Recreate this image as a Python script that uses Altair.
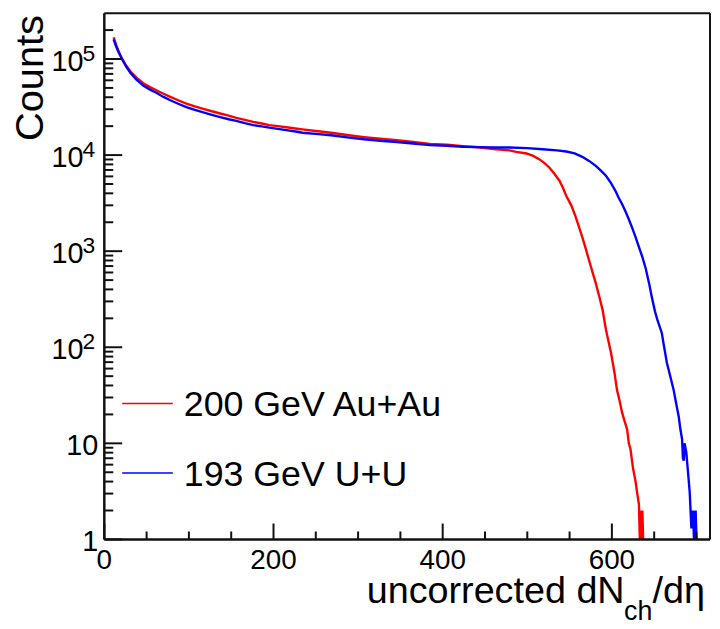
import math
import altair as alt
import pandas as pd

# ---- data ----
au_x = [11, 14, 17, 21, 26, 31, 38, 46, 54, 62, 70, 78, 88, 97, 107, 117, 127, 137, 147, 156,
        166, 176, 186, 195, 205, 215, 228, 234, 250, 268, 287, 307, 326, 346, 365, 385, 405, 424,
        444, 463, 479, 487, 499, 507, 514, 520, 526, 532, 538, 542, 546, 552, 557, 561, 565, 569,
        573, 577, 581, 585, 589, 593, 597, 599, 603, 606, 609, 612, 615, 618, 620, 622, 625, 628,
        630, 632, 633, 634, 635, 636, 637]
au_y = [168000, 140000, 120000, 100000, 85000, 74000, 64000, 56000, 51000, 47000, 43500, 40300,
        37000, 34400, 32200, 30300, 28600, 27100, 25700, 24400, 23300, 22200, 21300, 20500, 20000,
        19500, 18800, 18500, 17800, 17100, 16200, 15400, 14800, 14300, 13700, 13100, 12800, 12400,
        12000, 11500, 11200, 10800, 10400, 9800, 9070, 8300, 7430, 6400, 5410, 4600, 3780, 3000,
        2300, 1800, 1400, 1070, 805, 610, 462, 340, 245, 152, 105, 87, 55, 36, 28, 21, 17, 14, 10,
        8.7, 5.5, 4, 3, 2.3, 1, 2, 1, 2, 1]

uu_x = [11, 14, 17, 21, 26, 31, 38, 46, 54, 62, 70, 78, 88, 97, 107, 117, 127, 137, 147, 156,
        166, 176, 186, 195, 215, 228, 234, 250, 268, 287, 307, 326, 346, 365, 385, 405, 424, 444,
        463, 479, 500, 518, 535, 546, 556, 565, 573, 581, 587, 593, 599, 604, 608, 612, 616, 620,
        624, 628, 632, 636, 640, 644, 647, 651, 654, 659, 661, 665, 669, 673, 676, 679, 681, 683,
        684, 685, 686, 688, 690, 692, 693, 694, 696, 697, 699, 700, 702]
uu_y = [160000, 135000, 117000, 100000, 83000, 71300, 61000, 52800, 48000, 44300, 40300, 37200,
        34000, 31500, 29500, 27800, 26200, 24800, 23600, 22700, 21500, 20500, 19900, 19300, 18200,
        17500, 17100, 16600, 16100, 15300, 14600, 14100, 13700, 13200, 12700, 12500, 12200, 12100,
        12000, 12000, 11800, 11500, 11200, 10900, 10400, 9600, 8700, 7730, 6900, 6090, 5100, 4270,
        3600, 3100, 2600, 2150, 1750, 1400, 1100, 871, 660, 462, 340, 235, 190, 141, 110, 69, 50,
        36, 26, 19, 14, 11, 7, 6.6, 10, 8, 5, 3.1, 2, 1.3, 2, 1, 2, 1, 1]

series_names = ["200 GeV Au+Au", "193 GeV U+U"]
series_colors = ["#ff0000", "#0000ff"]

x_major = [0, 200, 400, 600]
x_major_labels = ["0", "200", "400", "600"]
x_minor = [50, 100, 150, 250, 300, 350, 450, 500, 550, 650, 700]

y_major = [1, 10, 100, 1000, 10000, 100000]
y_plain_vals = [1, 10]
y_plain_labels = ["1", "10"]
y_pow_vals = [100, 1000, 10000, 100000]
y_pow_exps = ["2", "3", "4", "5"]
y_minor = [m * 10 ** e for e in range(0, 6) for m in range(2, 10) if m * 10 ** e <= 200000]

FONT = "Liberation Sans"
INK = "#111111"
W, H = 610, 530
X_MAX, Y_MIN, Y_MAX = 716, 1, 300000
xs = alt.Scale(domain=[0, X_MAX], nice=False, zero=False)
ys = alt.Scale(type="log", domain=[Y_MIN, Y_MAX], nice=False)

au_df = pd.DataFrame({"x": au_x, "y": au_y})
uu_df = pd.DataFrame({"x": uu_x, "y": uu_y})


def curve(df, color):
    return alt.Chart(df).mark_line(color=color, strokeWidth=2.4, clip=True).encode(
        x=alt.X("x:Q", scale=xs, axis=None),
        y=alt.Y("y:Q", scale=ys, axis=None),
    )


red = curve(au_df, series_colors[0])
blue = curve(uu_df, series_colors[1])

# one mixed-type table for all tick positions
tick_df = pd.DataFrame({
    "tv": [float(v) for v in y_major + y_minor + x_major + x_minor],
    "axis": ["y"] * (len(y_major) + len(y_minor)) + ["x"] * (len(x_major) + len(x_minor)),
    "kind": (["major"] * len(y_major) + ["minor"] * len(y_minor)
             + ["major"] * len(x_major) + ["minor"] * len(x_minor)),
})


def yticks(kind, length_px):
    end = length_px * X_MAX / W
    return alt.Chart(tick_df).transform_filter(
        f"datum.axis == 'y' && datum.kind == '{kind}'"
    ).transform_calculate(xa="0", xb=str(end)).mark_rule(color=INK, strokeWidth=2).encode(
        y=alt.Y("tv:Q", scale=ys, axis=None),
        x=alt.X("xa:Q", scale=xs, axis=None),
        x2="xb:Q",
    )


def xticks(kind, length_px):
    end = Y_MIN * 10 ** (length_px / H * math.log10(Y_MAX / Y_MIN))
    return alt.Chart(tick_df).transform_filter(
        f"datum.axis == 'x' && datum.kind == '{kind}'"
    ).transform_calculate(ya=str(Y_MIN), yb=str(end)).mark_rule(color=INK, strokeWidth=2).encode(
        x=alt.X("tv:Q", scale=xs, axis=None),
        y=alt.Y("ya:Q", scale=ys, axis=None),
        y2="yb:Q",
    )


ymaj = yticks("major", 18)
ymin = yticks("minor", 9)
xmaj = xticks("major", 16)
xmin = xticks("minor", 8)

xlab = alt.Chart(pd.DataFrame({"v": x_major, "t": x_major_labels})).mark_text(
    font=FONT, fontSize=28, baseline="alphabetic", align="center", color="black").encode(
    x=alt.X("v:Q", scale=xs, axis=None), y=alt.value(560), text="t:N")

ylab_plain = alt.Chart(pd.DataFrame({"v": y_plain_vals, "t": y_plain_labels})).mark_text(
    font=FONT, fontSize=29, baseline="middle", align="right", dy=3, color="black").encode(
    y=alt.Y("v:Q", scale=ys, axis=None), x=alt.value(-6), text="t:N")
ylab_base = alt.Chart(pd.DataFrame({"v": y_pow_vals, "t": ["10"] * len(y_pow_vals)})).mark_text(
    font=FONT, fontSize=29, baseline="middle", align="right", dy=3, color="black").encode(
    y=alt.Y("v:Q", scale=ys, axis=None), x=alt.value(-21), text="t:N")
ylab_exp = alt.Chart(pd.DataFrame({"v": y_pow_vals, "t": y_pow_exps})).mark_text(
    font=FONT, fontSize=23, baseline="middle", align="left", dy=-5, color="black").encode(
    y=alt.Y("v:Q", scale=ys, axis=None), x=alt.value(-22), text="t:N")

ytitle = alt.Chart().mark_text(font=FONT, fontSize=40, angle=270, align="right",
                               baseline="alphabetic", color="black").encode(
    x=alt.value(-62), y=alt.value(2), text=alt.value("Counts"))

xt_main = alt.Chart().mark_text(font=FONT, fontSize=38, align="right", baseline="alphabetic",
                                color="black").encode(
    x=alt.value(524), y=alt.value(594), text=alt.value("uncorrected dN"))
xt_sub = alt.Chart().mark_text(font=FONT, fontSize=27, align="right", baseline="alphabetic",
                               color="black").encode(
    x=alt.value(552), y=alt.value(611), text=alt.value("ch"))
xt_end = alt.Chart().mark_text(font=FONT, fontSize=38, align="right", baseline="alphabetic",
                               color="black").encode(
    x=alt.value(605), y=alt.value(594), text=alt.value("/dη"))

leg_red_line = alt.Chart().mark_rule(color=series_colors[0], strokeWidth=1.5).encode(
    x=alt.value(18), x2=alt.value(69), y=alt.value(393))
leg_blue_line = alt.Chart().mark_rule(color=series_colors[1], strokeWidth=1.5).encode(
    x=alt.value(18), x2=alt.value(69), y=alt.value(463))
leg_red_txt = alt.Chart().mark_text(font=FONT, fontSize=36, align="left", baseline="alphabetic",
                                    color="black").encode(
    x=alt.value(80), y=alt.value(406), text=alt.value(series_names[0]))
leg_blue_txt = alt.Chart().mark_text(font=FONT, fontSize=36, align="left", baseline="alphabetic",
                                     color="black").encode(
    x=alt.value(80), y=alt.value(476), text=alt.value(series_names[1]))

frame_l = alt.Chart().mark_rule(color=INK, strokeWidth=2.5).encode(
    x=alt.value(0), y=alt.value(0), y2=alt.value(H))
frame_r = alt.Chart().mark_rule(color=INK, strokeWidth=2).encode(
    x=alt.value(W), y=alt.value(0), y2=alt.value(H))
frame_b = alt.Chart().mark_rule(color=INK, strokeWidth=2.5).encode(
    y=alt.value(H), x=alt.value(0), x2=alt.value(W))
frame_t = alt.Chart().mark_rule(color=INK, strokeWidth=2).encode(
    y=alt.value(0), x=alt.value(0), x2=alt.value(W))

chart = alt.layer(
    red, blue, xlab, ylab_plain, ylab_base, ylab_exp, ytitle,
    xt_main, xt_sub, xt_end, leg_red_line, leg_blue_line, leg_red_txt, leg_blue_txt,
    ymaj, ymin, xmaj, xmin, frame_l, frame_r, frame_b, frame_t,
).properties(
    width=W, height=H,
    padding={"left": 97, "top": 3, "right": 2, "bottom": 85},
    autosize=alt.AutoSizeParams(type="none"),
    background="white",
).configure_view(strokeWidth=0)

chart.save("out.html", embed_options={"renderer": "svg", "actions": False})
